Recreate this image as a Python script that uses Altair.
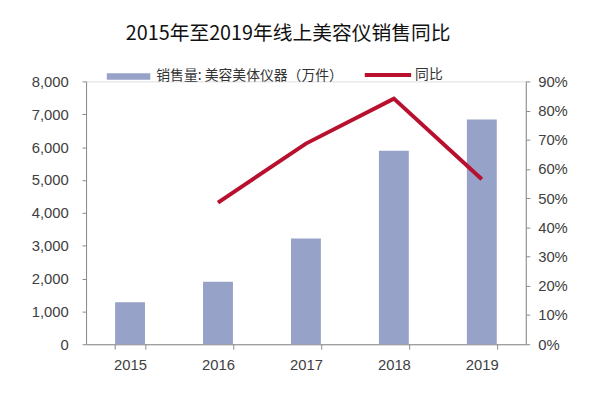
import altair as alt
import pandas as pd

years = ["2015", "2016", "2017", "2018", "2019"]
sales = [1280, 1900, 3220, 5890, 6840]
yoy_years = ["2016", "2017", "2018", "2019"]
yoy = [0.485, 0.687, 0.841, 0.565]

bar_name = "销售量: 美容美体仪器（万件）"
line_name = "同比"

df_bar = pd.DataFrame({"year": years, "sales": sales})
df_line = pd.DataFrame({"year": yoy_years, "yoy": yoy})

label_font = "Liberation Sans"
cjk_font = "Noto Sans CJK SC"

x = alt.X("year:N", title=None, sort=years,
          scale=alt.Scale(paddingInner=0.66, paddingOuter=0.33),
          axis=alt.Axis(labelAngle=0, tickBand="extent", tickSize=5,
                        labelPadding=9, domainColor="#888888", tickColor="#888888",
                        labelFont=label_font, labelFontSize=15, labelColor="#404040"))

bars = alt.Chart(df_bar).mark_bar(color="#97a2c8").encode(
    x=x,
    y=alt.Y("sales:Q", title=None,
            scale=alt.Scale(domain=[0, 8000]),
            axis=alt.Axis(values=list(range(0, 8001, 1000)), format=",.0f", grid=False,
                          tickSize=4, labelPadding=14, domainColor="#888888",
                          tickColor="#888888", labelFont=label_font,
                          labelFontSize=15, labelColor="#404040")),
    fill=alt.Fill("s:N", title=None,
                  scale=alt.Scale(domain=[bar_name], range=["#97a2c8"]),
                  legend=alt.Legend(orient="none", legendX=21, legendY=-27,
                                    direction="horizontal",
                                    symbolType="M-1,-0.15H1V0.15H-1Z",
                                    symbolSize=1936, symbolStrokeWidth=0,
                                    labelFont=cjk_font, labelFontSize=14,
                                    labelColor="#333333", labelOffset=6,
                                    labelLimit=400)),
).transform_calculate(s=f"'{bar_name}'")

line = alt.Chart(df_line).mark_line(color="#b8102f", strokeWidth=4).encode(
    x=x,
    y=alt.Y("yoy:Q", title=None,
            scale=alt.Scale(domain=[0, 0.9]),
            axis=alt.Axis(orient="right", values=[i / 10 for i in range(10)],
                          format=".0%", grid=False, tickSize=4, labelPadding=8,
                          domainColor="#888888", tickColor="#888888",
                          labelFont=label_font, labelFontSize=15,
                          labelColor="#404040")),
    stroke=alt.Stroke("s:N", title=None,
                      scale=alt.Scale(domain=[line_name], range=["#b8102f"]),
                      legend=alt.Legend(orient="none", legendX=280, legendY=-32,
                                        direction="horizontal",
                                        symbolType="stroke", symbolSize=2200,
                                        symbolStrokeWidth=4,
                                        labelFont=cjk_font, labelFontSize=14,
                                        labelColor="#333333", labelOffset=2)),
).transform_calculate(s=f"'{line_name}'")

chart = alt.layer(bars, line).resolve_scale(
    y="independent", fill="independent", stroke="independent"
).properties(
    width=445, height=266,
    autosize=alt.AutoSizeParams(type="none"),
    padding={"left": 79, "top": 72, "right": 67, "bottom": 41},
    title=alt.TitleParams(
        "2015年至2019年线上美容仪销售同比",
        font=cjk_font, fontSize=20, fontWeight="normal", color="#111111",
        anchor="middle", dx=-18, offset=6,
    ),
).configure_view(stroke=None).configure(background="white")

chart.save("out.html", embed_options={"renderer": "svg", "actions": False})
